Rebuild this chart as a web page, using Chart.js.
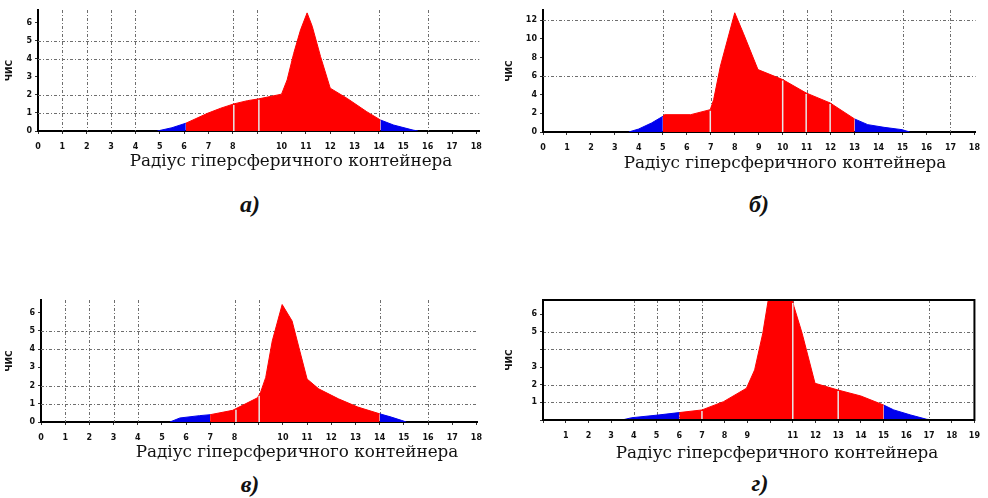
<!DOCTYPE html>
<html>
<head>
<meta charset="utf-8">
<script src="https://cdn.jsdelivr.net/npm/chart.js@4.4.1/dist/chart.umd.min.js"></script>
<style>
  body { margin: 0; background: #fff; }
  #page { position: relative; width: 988px; height: 498px; overflow: hidden; }
  .panel { position: absolute; }
  .caption {
    position: absolute;
    font-family: "DejaVu Serif", serif;
    font-size: 16.8px;
    line-height: 20px;
    white-space: nowrap;
    transform: translateX(-50%);
    color: #111;
  }
  .letter {
    position: absolute;
    font-family: "Liberation Serif", serif;
    font-style: italic;
    font-weight: bold;
    font-size: 24px;
    line-height: 24px;
    transform: translateX(-50%);
    color: #111;
  }
</style>
</head>
<body>
<div id="page">
  <div class="panel" style="left:0;top:0;width:490px;height:152px"><canvas id="chartA"></canvas></div>
  <div class="panel" style="left:500px;top:0;width:488px;height:152px"><canvas id="chartB"></canvas></div>
  <div class="panel" style="left:0;top:290px;width:490px;height:152px"><canvas id="chartV"></canvas></div>
  <div class="panel" style="left:500px;top:290px;width:488px;height:152px"><canvas id="chartG"></canvas></div>

  <div class="caption" style="left:291px;top:150px">Радіус гіперсферичного контейнера</div>
  <div class="caption" style="left:785px;top:152px">Радіус гіперсферичного контейнера</div>
  <div class="caption" style="left:297px;top:441px">Радіус гіперсферичного контейнера</div>
  <div class="caption" style="left:777px;top:442px">Радіус гіперсферичного контейнера</div>

  <div class="letter" style="left:250px;top:192px">а)</div>
  <div class="letter" style="left:759px;top:192px">б)</div>
  <div class="letter" style="left:250px;top:472px">в)</div>
  <div class="letter" style="left:760px;top:471px">г)</div>
</div>

<script>

// panel а
const aX = [4.9, 5.5, 6.07, 6.96, 7.5, 8.04, 8.6, 9.07, 10.0, 10.23, 10.5, 10.78, 11.05, 11.26, 11.6, 12.0, 12.7, 13.5, 14.06, 14.6, 15.4, 15.6];
const aY = [0, 0.18, 0.43, 0.98, 1.26, 1.5, 1.68, 1.78, 2.04, 2.83, 4.3, 5.6, 6.54, 5.8, 4.13, 2.37, 1.8, 1.07, 0.61, 0.33, 0.05, 0];
const aRed = [6.07, 14.06];
const aCuts = [8.04, 9.07];
const aGridX = [1, 2, 3, 4, 8, 9, 14, 16];
const aGridY = [1, 2, 4, 5];
const aXLabels = ['0', '1', '2', '3', '4', '5', '6', '7', '8', '', '10', '11', '12', '13', '14', '15', '16', '17', '18'];
const aYLabels = ['0', '1', '2', '3', '4', '5', '6'];

// panel б
const bX = [3.58, 3.99, 4.53, 5.0, 5.07, 6.16, 6.98, 7.12, 7.4, 8.0, 8.36, 8.97, 10.0, 10.98, 11.98, 13.0, 13.55, 14.23, 14.98, 15.3];
const bY = [0, 0.32, 0.97, 1.68, 1.86, 1.86, 2.4, 3.48, 7.06, 12.8, 10.6, 6.7, 5.63, 4.19, 3.12, 1.4, 0.79, 0.5, 0.25, 0];
const bRed = [5.0, 13.0];
const bCuts = [6.98, 10.0, 10.98, 11.98];
const bGridX = [5, 7, 10, 11, 12, 15, 17];
const bGridY = [6, 12];
const bXLabels = ['0', '1', '2', '3', '4', '5', '6', '7', '8', '9', '10', '11', '12', '13', '14', '15', '16', '17', '18'];
const bYLabels = ['0', '2', '4', '6', '8', '10', '12'];

// panel в
const vX = [5.33, 5.74, 6.56, 6.99, 7.92, 8.95, 9.08, 9.29, 9.56, 9.97, 10.38, 10.66, 11.0, 11.48, 12.3, 13.1, 14.0, 14.48, 14.9, 15.1];
const vY = [0, 0.22, 0.35, 0.4, 0.64, 1.33, 1.64, 2.45, 4.45, 6.45, 5.55, 4.1, 2.36, 1.82, 1.27, 0.82, 0.45, 0.27, 0.09, 0];
const vRed = [6.99, 14.0];
const vCuts = [8.06, 9.02];
const vGridX = [1, 2, 3, 4, 8, 9, 14, 16];
const vGridY = [1, 2, 4, 5];
const vXLabels = aXLabels;
const vYLabels = aYLabels;

// panel г
const gX = [3.48, 3.91, 5.06, 6.0, 7.0, 7.95, 8.96, 9.32, 9.68, 9.97, 10.9, 11.05, 11.41, 11.98, 12.99, 14.0, 15.0, 15.45, 16.2, 16.9, 17.2];
const gY = [0, 0.13, 0.28, 0.42, 0.57, 1.04, 1.8, 2.84, 4.92, 7.2, 7.2, 6.44, 4.92, 2.08, 1.7, 1.36, 0.85, 0.57, 0.28, 0.04, 0];
const gRed = [6.0, 15.0];
const gCuts = [7.0, 11.0, 13.0];
const gGridX = [4, 5, 6, 7, 11, 13, 17];
const gGridY = [1, 2, 4, 5];
const gXLabels = ['', '1', '2', '3', '4', '5', '6', '7', '8', '9', '', '11', '12', '13', '14', '15', '16', '17', '18', '19'];
const gYLabels = ['', '1', '2', '3', '', '5', '6'];

const RED = '#ff0000';
const BLUE = '#0000ee';

function curveTop(xs, ys, v) {
    for (let i = 0; i < xs.length - 1; i++) {
        if (v >= xs[i] && v <= xs[i + 1]) {
            const t = (v - xs[i]) / (xs[i + 1] - xs[i]);
            return ys[i] + t * (ys[i + 1] - ys[i]);
        }
    }
    return 0;
}

const panelLines = {
    id: 'panelLines',
    beforeDatasetsDraw(chart, args, opts) {
        const {ctx, chartArea, scales: {x, y}} = chart;
        ctx.save();
        ctx.strokeStyle = '#6e6e6e';
        ctx.lineWidth = 1;
        ctx.setLineDash([3, 2, 1, 2]);
        for (const v of opts.gridX) {
            const px = Math.round(x.getPixelForValue(v)) + 0.5;
            ctx.beginPath();
            ctx.moveTo(px, chartArea.top);
            ctx.lineTo(px, chartArea.bottom);
            ctx.stroke();
        }
        for (const v of opts.gridY) {
            const py = Math.round(y.getPixelForValue(v)) + 0.5;
            ctx.beginPath();
            ctx.moveTo(chartArea.left, py);
            ctx.lineTo(chartArea.right, py);
            ctx.stroke();
        }
        ctx.restore();
    },
    afterDatasetsDraw(chart, args, opts) {
        const {ctx, chartArea, scales: {x, y}} = chart;
        ctx.save();
        ctx.beginPath();
        ctx.rect(chartArea.left, chartArea.top, chartArea.right - chartArea.left, chartArea.bottom - chartArea.top);
        ctx.clip();
        ctx.strokeStyle = '#e8e8e8';
        ctx.lineWidth = 1.5;
        for (const v of opts.cuts) {
            const px = x.getPixelForValue(v);
            const top = y.getPixelForValue(curveTop(opts.xs, opts.ys, v));
            ctx.beginPath();
            ctx.moveTo(px, chartArea.bottom);
            ctx.lineTo(px, top + 1);
            ctx.stroke();
        }
        ctx.restore();
        if (opts.frame) {
            ctx.save();
            ctx.strokeStyle = '#000';
            ctx.lineWidth = 2;
            ctx.strokeRect(chartArea.left, chartArea.top, chartArea.right - chartArea.left, chartArea.bottom - chartArea.top);
            ctx.restore();
        }
    }
};

function part(xs, ys, from, to) {
    const out = [];
    xs.forEach((v, i) => {
        if (v >= from && v <= to) out.push({x: v, y: ys[i]});
    });
    return out;
}

function areaSet(data, color) {
    return {
        data,
        backgroundColor: color,
        borderColor: color,
        borderWidth: 1,
        fill: 'origin',
        pointRadius: 0,
        tension: 0
    };
}

function makePanel(id, cfg) {

    const ctx = document.getElementById(id).getContext('2d');

    return new Chart(ctx, {

        type: 'line',

        data: {
            datasets: [
                areaSet(part(cfg.xs, cfg.ys, -1, cfg.red[0]), BLUE),
                areaSet(part(cfg.xs, cfg.ys, cfg.red[0], cfg.red[1]), RED),
                areaSet(part(cfg.xs, cfg.ys, cfg.red[1], 99), BLUE)
            ]
        },

        options: {

            responsive: true,
            maintainAspectRatio: false,
            animation: false,

            layout: {
                padding: {top: 10, right: cfg.padRight, left: 0, bottom: 0}
            },

            plugins: {
                legend: {display: false},
                tooltip: {enabled: false},
                panelLines: {
                    gridX: cfg.gridX,
                    gridY: cfg.gridY,
                    cuts: cfg.cuts,
                    xs: cfg.xs,
                    ys: cfg.ys,
                    frame: cfg.frame
                }
            },

            scales: {

                x: {
                    type: 'linear',
                    min: 0,
                    max: cfg.xMax,
                    afterFit: s => { s.height = cfg.xHeight; },
                    afterBuildTicks: s => {
                        s.ticks = cfg.xLabels.map((t, i) => ({value: i}));
                    },
                    ticks: {
                        autoSkip: false,
                        maxRotation: 0,
                        padding: 8,
                        color: '#111',
                        font: {family: 'DejaVu Sans', size: 8, weight: 'bold'},
                        callback: (v) => cfg.xLabels[v] ?? ''
                    },
                    grid: {
                        drawOnChartArea: false,
                        tickLength: 3,
                        color: '#333'
                    },
                    border: {color: '#000', width: 2}
                },

                y: {
                    min: 0,
                    max: cfg.yMax,
                    afterFit: s => { s.width = cfg.yWidth; },
                    afterBuildTicks: s => {
                        s.ticks = cfg.yLabels.map((t, i) => ({value: i * cfg.yStep}));
                    },
                    ticks: {
                        padding: 3,
                        color: '#111',
                        font: {family: 'DejaVu Sans', size: 8, weight: 'bold'},
                        callback: (v) => cfg.yLabels[Math.round(v / cfg.yStep)] ?? ''
                    },
                    grid: {
                        drawOnChartArea: false,
                        tickLength: 3,
                        color: '#333'
                    },
                    border: {color: '#000', width: 2},
                    title: {
                        display: true,
                        text: 'ЧИС',
                        color: '#111',
                        padding: {top: 4, bottom: 0},
                        font: {family: 'DejaVu Sans', size: 9, weight: 'bold'}
                    }
                }
            }
        },

        plugins: [panelLines]
    });
}

makePanel('chartA', {
    xs: aX, ys: aY, red: aRed, cuts: aCuts, gridX: aGridX, gridY: aGridY,
    xLabels: aXLabels, yLabels: aYLabels, yStep: 1,
    xMax: 18.12, yMax: 6.7, yWidth: 38, xHeight: 21, padRight: 10, frame: false
});

makePanel('chartB', {
    xs: bX, ys: bY, red: bRed, cuts: bCuts, gridX: bGridX, gridY: bGridY,
    xLabels: bXLabels, yLabels: bYLabels, yStep: 2,
    xMax: 18.05, yMax: 13.1, yWidth: 43, xHeight: 20, padRight: 5, frame: false
});

makePanel('chartV', {
    xs: vX, ys: vY, red: vRed, cuts: vCuts, gridX: vGridX, gridY: vGridY,
    xLabels: vXLabels, yLabels: vYLabels, yStep: 1,
    xMax: 18.04, yMax: 6.7, yWidth: 41, xHeight: 20, padRight: 10, frame: false
});

makePanel('chartG', {
    xs: gX, ys: gY, red: gRed, cuts: gCuts, gridX: gGridX, gridY: gGridY,
    xLabels: gXLabels, yLabels: gYLabels, yStep: 1,
    xMax: 19, yMax: 6.8, yWidth: 43, xHeight: 22, padRight: 5, frame: true
});
</script>
</body>
</html>
